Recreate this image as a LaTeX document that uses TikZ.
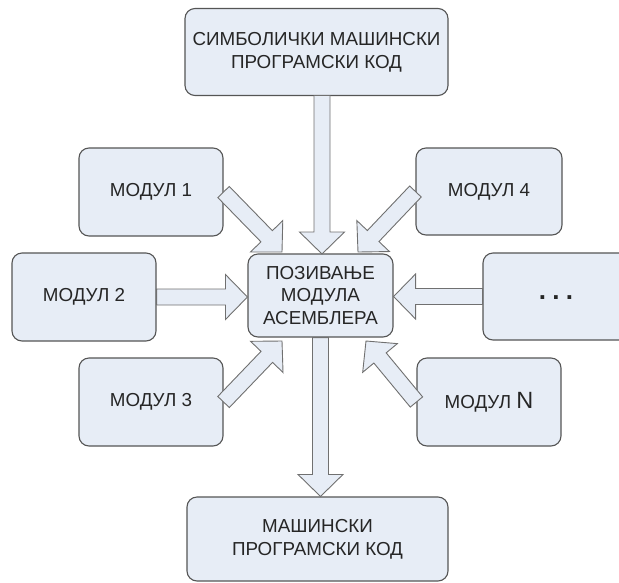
\documentclass[tikz,border=0pt]{standalone}
\usepackage{fontspec}
\setmainfont{Liberation Sans}
\usetikzlibrary{calc}

\definecolor{boxfill}{HTML}{E7EDF6}
\definecolor{boxline}{HTML}{555555}
\definecolor{arrowline}{HTML}{707070}
\definecolor{txt}{HTML}{262626}

\tikzset{
  box/.style={draw=boxline, fill=boxfill, rounded corners=10pt, line width=1.1pt,
    text=txt, align=center, inner sep=0pt,
    font=\fontsize{18.8}{22.8}\selectfont},
  modbox/.style={box, minimum width=144pt, minimum height=88pt},
  flow/.style={draw=arrowline, fill=boxfill, line width=0.9pt, line join=miter},
}

% block arrow from #1 (tail centre) to #2 (tip)
\newcommand\blockarrow[2]{%
  \coordinate (ba-h) at ($(#2)!22pt!(#1)$);
  \filldraw[flow] ($(#1)!8pt!90:(#2)$) -- ($(ba-h)!8pt!90:(#2)$)
    -- ($(ba-h)!22.5pt!90:(#2)$) -- (#2) -- ($(ba-h)!22.5pt!-90:(#2)$)
    -- ($(ba-h)!8pt!-90:(#2)$) -- ($(#1)!8pt!-90:(#2)$) -- cycle;}

\begin{document}
\begin{tikzpicture}[x=1pt, y=-1pt]
  \useasboundingbox (0,0) rectangle (619,582);
  \clip (0,0) rectangle (619,582);

  % boxes
  \node[box, minimum width=263pt, minimum height=87pt] (src) at (316.5,52)
    {СИМБОЛИЧКИ МАШИНСКИ\\ПРОГРАМСКИ КОД};
  \node[box, minimum width=145pt, minimum height=83pt] (mid) at (320.5,295.5)
    {ПОЗИВАЊЕ\\МОДУЛА\\АСЕМБЛЕРА};
  \node[modbox] (m1) at (151,192) {МОДУЛ 1};
  \node[modbox] (m2) at (84,297) {МОДУЛ 2};
  \node[modbox] (m3) at (151,402) {МОДУЛ 3};
  \node[modbox, minimum width=146pt, minimum height=87pt] (m4) at (489,191.5) {МОДУЛ 4};
  \node[modbox, minimum width=146pt, minimum height=87pt] (dots) at (556,296.5)
    {\raisebox{-5pt}{\fontsize{26}{28}\selectfont\bfseries .\hspace{0.24em}.\hspace{0.24em}.}};
  \node[modbox] (mN) at (489,402) {МОДУЛ \fontsize{23.5}{26}\selectfont N};
  \node[box, minimum width=261pt, minimum height=84pt] (dst) at (317.5,539)
    {МАШИНСКИ\\ПРОГРАМСКИ КОД};

  % arrow tips on the central box
  \coordinate (t1) at (282,252);
  \coordinate (t4) at (358,252);
  \coordinate (t3) at (282,341);
  \coordinate (tN) at (366,341);
  \coordinate (tsrc) at (322,254);
  \coordinate (ssrc) at (322,95.5);

  % connectors
  \blockarrow{ssrc}{tsrc}
  \blockarrow{m1.east}{t1}
  \blockarrow{m4.west}{t4}
  \blockarrow{m2.east}{m2.east -| mid.west}
  \blockarrow{dots.west}{dots.west -| mid.east}
  \blockarrow{m3.east}{t3}
  \blockarrow{mN.west}{tN}
  \blockarrow{mid.south}{mid.south |- dst.north}
\end{tikzpicture}
\end{document}
